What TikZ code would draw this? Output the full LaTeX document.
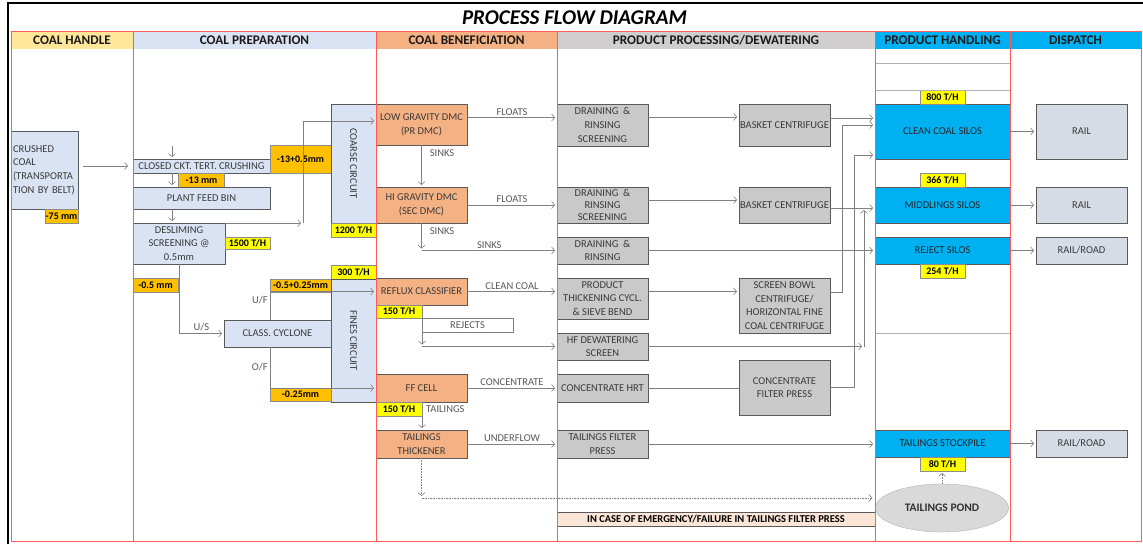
\documentclass[tikz,border=0pt]{standalone}
\usepackage{fontspec}
\setmainfont{Carlito}
\usetikzlibrary{positioning,arrows.meta,shapes.geometric}
\definecolor{handlecol}{HTML}{FFE699}
\definecolor{prepcol}{HTML}{DAE3F3}
\definecolor{benefcol}{HTML}{F4B183}
\definecolor{proccol}{HTML}{C9C9C9}
\definecolor{prochead}{HTML}{D0CECE}
\definecolor{silocol}{HTML}{00B0F0}
\definecolor{dispcol}{HTML}{D6DCE5}
\definecolor{mmcol}{HTML}{FFC000}
\definecolor{ratecol}{HTML}{FFFF00}
\definecolor{emergcol}{HTML}{FBE5D6}
\definecolor{pondcol}{HTML}{D9D9D9}
\definecolor{linecol}{HTML}{808080}
\definecolor{edgecol}{HTML}{595959}
\definecolor{textcol}{HTML}{3A3A3A}
\definecolor{colred}{HTML}{FF5B5B}
\newcommand{\pfdfont}{\fontsize{10.5}{13.7}\selectfont}
\tikzset{
    wh/.style 2 args = {
        minimum width=#1,
        minimum height=#2,
        },
    box node/.style = {
        draw=edgecol,
        line width=0.6pt,
        inner sep=1pt,
        outer sep=0pt,
        align=center,
        text=textcol,
        font=\pfdfont,
        },
    prep node/.style = {
        box node,
        fill=prepcol,
        },
    benef node/.style = {
        box node,
        fill=benefcol,
        },
    proc node/.style = {
        box node,
        fill=proccol,
        },
    silo node/.style = {
        box node,
        fill=silocol,
        text=black!85,
        },
    disp node/.style = {
        box node,
        fill=dispcol,
        },
    pond node/.style = {
        ellipse,
        draw=gray!60,
        fill=pondcol,
        inner sep=0pt,
        font=\fontsize{11.5}{13}\selectfont\bfseries,
        text=black!80,
        },
    emerg node/.style = {
        box node,
        fill=emergcol,
        text=black,
        font=\pfdfont\bfseries,
        },
    head node/.style = {
        inner sep=0pt,
        outer sep=0pt,
        text=black!90,
        font=\fontsize{13.2}{15}\selectfont\bfseries,
        },
    mm tag/.style = {
        fill=mmcol,
        draw=black!45,
        line width=0.4pt,
        inner sep=0pt,
        outer sep=0pt,
        font=\fontsize{10}{12}\selectfont\bfseries,
        },
    rate tag/.style = {
        mm tag,
        fill=ratecol,
        },
    flow label/.style = {
        font=\pfdfont,
        text=edgecol,
        inner sep=2pt,
        },
    flow edge/.style = {
        draw=linecol,
        line width=0.6pt,
        -{Straight Barb[length=3pt,width=7pt]},
        shorten >=2pt,
        },
    dot edge/.style = {
        flow edge,
        densely dotted,
        },
    line edge/.style = {
        draw=linecol,
        line width=0.6pt,
        },
    col line/.style = {
        draw=colred,
        line width=0.8pt,
        },
}

\begin{document}
\begin{tikzpicture}[x=1pt, y=-1pt]
    \fill[white] (0,0) rectangle (1143,544);
    \useasboundingbox (0,0) rectangle (1143,544);

    \node[font=\fontsize{21}{24}\selectfont\bfseries\itshape] (title) at (574.5,18) {PROCESS FLOW DIAGRAM};

    \node[head node, fill=handlecol, wh={122}{18}] (hHandle) at (72,40) {COAL HANDLE};
    \node[head node, fill=prepcol, wh={243}{18}] (hPrep) at (254.5,40) {COAL PREPARATION};
    \node[head node, fill=benefcol, wh={181}{18}] (hBenef) at (466.5,40) {COAL BENEFICIATION};
    \node[head node, fill=prochead, wh={318}{18}] (hProc) at (716,40) {PRODUCT PROCESSING/DEWATERING};
    \node[head node, fill=silocol, wh={135}{18}] (hProd) at (942.5,40) {PRODUCT HANDLING};
    \node[head node, fill=silocol, wh={131}{18}] (hDisp) at (1075.5,40) {DISPATCH};

    \node[prep node, wh={67}{78}, text width=63pt, align=left] (crush) at (44.5,170) {CRUSHED\\COAL\\(TRANSPORTA\\TION BY BELT)};
    \node[mm tag, below left=0pt of crush.south east, wh={33}{14}] (mm75) {-75 mm};

    \node[prep node, wh={137}{14}] (crushing) at (201.5,166) {CLOSED CKT. TERT. CRUSHING};
    \node[mm tag, below=0pt of crushing, wh={46}{14}] (mm13) {-13 mm};
    \node[mm tag, above right=0pt of crushing.south east, wh={61}{28}] (mm13b) {-13+0.5mm};
    \node[prep node, below=14pt of crushing, wh={137}{22}] (bin) {PLANT FEED BIN};
    \node[prep node, below right=14pt and 0pt of bin.south west, wh={92}{41}] (desl) {DESLIMING\\SCREENING @\\0.5mm};
    \node[rate tag, right=0pt of desl, wh={45}{12}] (t1500) {1500 T/H};
    \node[prep node, rotate=-90, wh={119}{45}] (coarse) at (353.5,163.5) {COARSE CIRCUIT};
    \node[rate tag, wh={45}{14}] (t1200) at (353.5,230) {1200 T/H};
    \node[mm tag, wh={45}{14}] (mm05) at (155.5,285) {-0.5 mm};
    \node[prep node, wh={107}{27}] (cyclone) at (277.5,333.5) {CLASS. CYCLONE};
    \node[mm tag, wh={61}{13}] (mm0525) at (300.5,285.5) {-0.5+0.25mm};
    \node[rate tag, wh={45}{14}] (t300) at (353.5,272) {300 T/H};
    \node[prep node, rotate=-90, wh={123}{45}] (fines) at (353.5,340.5) {FINES CIRCUIT};
    \node[mm tag, wh={61}{13}] (mm025) at (300.5,394.5) {-0.25mm};

    \node[benef node, wh={91}{41}] (lgdmc) at (421.5,124.5) {LOW GRAVITY DMC\\(PR DMC)};
    \node[benef node, wh={91}{36}] (hgdmc) at (421.5,205) {HI GRAVITY DMC\\(SEC DMC)};
    \node[benef node, wh={91}{27}] (reflux) at (421.5,291.5) {REFLUX CLASSIFIER};
    \node[rate tag, below right=0pt of reflux.south west, wh={46}{13}] (t150a) {150 T/H};
    \node[flow label, draw=linecol, line width=0.5pt, inner sep=0pt, outer sep=0pt, below right=0pt of t150a.south east, wh={91}{14}] (rejbox) {REJECTS};
    \node[benef node, wh={91}{28}] (ffcell) at (421.5,388) {FF CELL};
    \node[rate tag, below right=0pt of ffcell.south west, wh={46}{14}] (t150b) {150 T/H};
    \node[flow label, right=2pt of t150b] (tail) {TAILINGS};
    \node[benef node, wh={91}{28}] (thick) at (421.5,444) {TAILINGS\\THICKENER};

    \node[proc node, wh={91}{42}] (drain1) at (602.5,125) {DRAINING \ \&\\RINSING\\SCREENING};
    \node[proc node, wh={91}{42}] (bask1) at (784.5,125) {BASKET CENTRIFUGE};
    \node[proc node, wh={91}{36}, font=\fontsize{10.5}{12}\selectfont] (drain2) at (602.5,205) {DRAINING \ \&\\RINSING\\SCREENING};
    \node[proc node, wh={91}{36}] (bask2) at (784.5,205) {BASKET CENTRIFUGE};
    \node[proc node, wh={91}{27}] (drain3) at (602.5,250.5) {DRAINING \ \&\\RINSING};
    \node[proc node, wh={91}{41}] (thickcyc) at (602.5,298.5) {PRODUCT\\THICKENING CYCL.\\\& SIEVE BEND};
    \node[proc node, wh={91}{55}] (bowl) at (784.5,305.5) {SCREEN BOWL\\CENTRIFUGE/\\HORIZONTAL FINE\\COAL CENTRIFUGE};
    \node[proc node, wh={91}{27}] (hfscreen) at (602.5,346.5) {HF DEWATERING\\SCREEN};
    \node[proc node, wh={91}{28}] (conchrt) at (602.5,388) {CONCENTRATE HRT};
    \node[proc node, wh={91}{55}] (concfp) at (784.5,387.5) {CONCENTRATE\\FILTER PRESS};
    \node[proc node, wh={91}{28}] (tailfp) at (602.5,444) {TAILINGS FILTER\\PRESS};
    \node[emerg node, wh={318}{14}] (emerg) at (716,519) {IN CASE OF EMERGENCY/FAILURE IN TAILINGS FILTER PRESS};

    \node[silo node, wh={135}{55}] (ccsilo) at (942.5,131.5) {CLEAN COAL SILOS};
    \node[rate tag, above=0pt of ccsilo, wh={45}{14}] (t800) {800 T/H};
    \node[silo node, wh={135}{36}] (midsilo) at (942.5,205) {MIDDLINGS SILOS};
    \node[rate tag, above=0pt of midsilo, wh={45}{14}] (t366) {366 T/H};
    \node[silo node, wh={135}{27}] (rejsilo) at (942.5,250.5) {REJECT SILOS};
    \node[rate tag, below=0pt of rejsilo, wh={45}{14}] (t254) {254 T/H};
    \node[silo node, wh={135}{27}] (tstock) at (942.5,443.5) {TAILINGS STOCKPILE};
    \node[rate tag, below=0pt of tstock, wh={45}{14}] (t80) {80 T/H};
    \node[pond node, wh={133}{48}] (pond) at (942,508) {TAILINGS POND};

    \node[disp node, wh={91}{55}] (rail1) at (1081.5,131.5) {RAIL};
    \node[disp node, wh={91}{36}] (rail2) at (1081.5,205) {RAIL};
    \node[disp node, wh={91}{27}] (road1) at (1081.5,250.5) {RAIL/ROAD};
    \node[disp node, wh={91}{27}] (road2) at (1081.5,443.5) {RAIL/ROAD};

    \coordinate (feed) at (172,146);
    \coordinate (jdes) at (303,223);
    \coordinate (jrej) at (864,346.5);
    \coordinate (jtail) at (421.5,498);

    \draw[flow edge, shorten <=5pt, shorten >=5pt] (crush.east |- crushing.west) -- (crushing.west);
    \draw[flow edge] (feed) -- (feed |- crushing.north);
    \draw[flow edge] (feed |- crushing.south) -- (feed |- bin.north);
    \draw[flow edge] (feed |- bin.south) -- (feed |- desl.north);
    \draw[flow edge] (desl.north east) -- (jdes);
    \draw[flow edge] (jdes) |- ([yshift=3.5pt]lgdmc.west);
    \draw[flow edge] (desl.south) |- node[flow label, above, pos=0.75] {U/S} (cyclone.west);
    \draw[flow edge] (cyclone.north -| mm0525.west) |- node[flow label, left, pos=0.35] {U/F} (reflux.west);
    \draw[flow edge] (cyclone.south -| mm025.west) |- node[flow label, left, pos=0.25] {O/F} (ffcell.west);

    \path (lgdmc) edge[flow edge] node[flow label, right, pos=0.2, xshift=6pt] {SINKS} (hgdmc);
    \draw[flow edge] ([yshift=7pt]lgdmc.east) -- node[flow label, above] {FLOATS} ([yshift=7pt]lgdmc.east -| drain1.west);
    \draw[flow edge] (hgdmc.east) -- node[flow label, above] {FLOATS} (hgdmc.east -| drain2.west);
    \draw[flow edge] (hgdmc.south) -- node[flow label, right, pos=0.3, xshift=6pt] {SINKS} (hgdmc.south |- drain3.west);
    \draw[flow edge] (hgdmc.south |- drain3.west) -- node[flow label, above] {SINKS} (drain3.west);
    \draw[flow edge] (reflux.east) -- node[flow label, above] {CLEAN COAL} (reflux.east -| thickcyc.west);
    \draw[flow edge] (t150a.south east) -- (t150a.south east |- hfscreen.west);
    \draw[flow edge] (t150a.south east |- hfscreen.west) -- (hfscreen.west);
    \draw[flow edge] (ffcell.east) -- node[flow label, above] {CONCENTRATE} (conchrt.west);
    \draw[flow edge] (t150b.south east) -- (t150b.south east |- thick.north);
    \draw[flow edge] (thick.east) -- node[flow label, above] {UNDERFLOW} (tailfp.west);
    \draw[dot edge] (thick.south) -- (jtail);
    \draw[dot edge, shorten >=3pt] (jtail) -- (jtail -| pond.west);

    \draw[flow edge] ([yshift=8pt]drain1.east) -- ([yshift=8pt]bask1.west);
    \draw[flow edge] ([yshift=7pt]bask1.east) -- ([yshift=7pt]bask1.east -| ccsilo.west);
    \draw[flow edge] ([yshift=5pt]drain2.east) -- ([yshift=5pt]bask2.west);
    \draw[flow edge] ([yshift=-3pt]bask2.east) -- ([yshift=-3pt]bask2.east -| midsilo.west);
    \draw[flow edge] (drain3) -- (rejsilo);
    \draw[flow edge] ([yshift=7pt]thickcyc.east) -- ([yshift=7pt]thickcyc.east -| bowl.west);
    \draw[flow edge] ([yshift=13pt]bowl.east) -- ++(12,0) |- ([yshift=6.5pt]ccsilo.west);
    \draw[flow edge] (concfp.east) -- ++(24,0) |- ([yshift=-23.5pt]ccsilo.west);
    \draw[flow edge] (hfscreen.east) -- (jrej);
    \draw[flow edge, shorten >=5pt] (jrej) -- (jrej |- bask2.east);
    \draw[line edge] (conchrt.east) -- (conchrt.east -| concfp.west);
    \draw[flow edge] (tailfp.east) -- (tailfp.east -| tstock.west);

    \draw[flow edge] (ccsilo) -- (rail1);
    \draw[flow edge] (midsilo) -- (rail2);
    \draw[flow edge] (rejsilo) -- (road1);
    \draw[flow edge] (tstock) -- (road2);
    \draw[dot edge] (pond.north) -- (pond.north |- t80.south);

    \draw[line edge, draw=gray!60] (875,63) -- (1010,63);
    \draw[line edge, draw=gray!60] (875,90) -- (1010,90);
    \draw[line edge, draw=gray!60] (875,333) -- (1010,333);

    \draw[col line] (11,31) rectangle (1141,541);
    \draw[col line] (133,31) -- (133,541);
    \draw[col line] (376,31) -- (376,541);
    \draw[col line] (557,31) -- (557,541);
    \draw[col line] (875,31) -- (875,541);
    \draw[col line] (1010,31) -- (1010,541);
    \draw[line width=2pt] (8,544) -- (8,3) -- (1143,3);
\end{tikzpicture}
\end{document}
